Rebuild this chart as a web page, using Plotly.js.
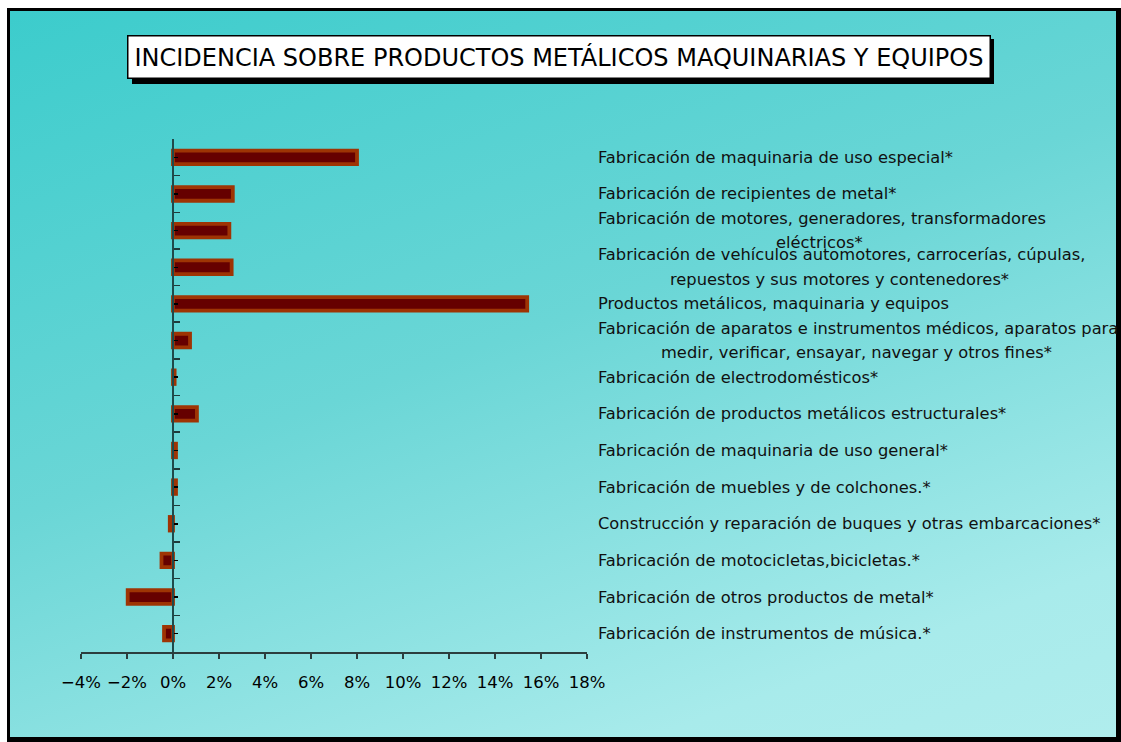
<!DOCTYPE html>
<html>
<head>
<meta charset="utf-8">
<script src="https://cdn.plot.ly/plotly-3.0.1.min.js"></script>
<style>
  html, body { margin: 0; padding: 0; background: #ffffff; width: 1121px; height: 742px; overflow: hidden; }
  #frame { position: absolute; left: 7px; top: 8px; width: 1114px; height: 734px; box-sizing: border-box;
           border-style: solid; border-color: #000; border-width: 3px 5px 5px 3px;
           background: linear-gradient(160deg, #3ccccc 0%, #6ad6d6 45%, #a8ebeb 85%, #b0eded 100%); }
  #chart { position: absolute; left: 0; top: 0; width: 1121px; height: 742px; }
</style>
</head>
<body>
<div id="frame"></div>
<div id="chart"></div>
<script>
// ---- data ----
const categories = [
  "Fabricación de maquinaria de uso especial*",
  "Fabricación de recipientes de metal*",
  "Fabricación de motores, generadores, transformadores<br>eléctricos*",
  "Fabricación de vehículos automotores, carrocerías, cúpulas,<br>repuestos y sus motores y contenedores*",
  "Productos metálicos, maquinaria y equipos",
  "Fabricación de aparatos e instrumentos médicos, aparatos para<br>medir, verificar, ensayar, navegar y otros fines*",
  "Fabricación de electrodomésticos*",
  "Fabricación de productos metálicos estructurales*",
  "Fabricación de maquinaria de uso general*",
  "Fabricación de muebles y de colchones.*",
  "Construcción y reparación de buques y otras embarcaciones*",
  "Fabricación de motocicletas,bicicletas.*",
  "Fabricación de otros productos de metal*",
  "Fabricación de instrumentos de música.*"
];
const incidencia = [8.0, 2.6, 2.45, 2.55, 15.4, 0.74, 0.07, 1.04, 0.13, 0.13, -0.14, -0.5, -1.97, -0.39];
const xTickVals = [-4, -2, 0, 2, 4, 6, 8, 10, 12, 14, 16, 18];
const xTickText = ["−4%", "−2%", "0%", "2%", "4%", "6%", "8%", "10%", "12%", "14%", "16%", "18%"];
const chartTitle = "INCIDENCIA SOBRE PRODUCTOS METÁLICOS MAQUINARIAS Y EQUIPOS";

// ---- layout constants ----
const W = 1121, H = 742;
const M = { l: 81, r: 534, t: 139, b: 90 };
const xRange = [-4, 18];
const labelFont = { family: "DejaVu Sans", size: 16.3, color: "#111111" };

const idx = categories.map((_, i) => i);

const trace = {
  type: "bar",
  orientation: "h",
  x: incidencia,
  y: idx,
  width: 0.37,
  marker: { color: "#660000", line: { color: "rgb(158,52,4)", width: 3.8 } },
  hoverinfo: "skip"
};

// text measurement for centering second lines
const cv = document.createElement("canvas").getContext("2d");
cv.font = labelFont.size + "px 'DejaVu Sans'";

const plotW = W - M.l - M.r, plotH = H - M.t - M.b;
const px2x = p => (p - M.l) / plotW;
const py2y = p => (H - M.b - p) / plotH;

// title shadow box (pixel frame of the title box, offset)
const shapes = [{
  type: "rect", xref: "paper", yref: "paper", layer: "above",
  x0: px2x(132), x1: px2x(994), y0: py2y(39), y1: py2y(84),
  fillcolor: "#000", line: { width: 0 }
}];

const annotations = [];
const titleFont = { family: "DejaVu Sans", size: 24, color: "#000" };
annotations.push({
  xref: "paper", yref: "paper", x: px2x(559), y: py2y(57.5),
  xanchor: "center", yanchor: "middle",
  text: chartTitle, showarrow: false, font: titleFont,
  bgcolor: "#ffffff", bordercolor: "#000", borderwidth: 1.5, borderpad: 6
});

categories.forEach((c, i) => {
  const lines = c.split("<br>");
  if (lines.length === 1) {
    annotations.push({ xref: "paper", yref: "y", x: 1, y: i, xshift: 9, xanchor: "left", yanchor: "middle",
      text: c, showarrow: false, font: labelFont });
  } else {
    const w1 = cv.measureText(lines[0]).width;
    annotations.push({ xref: "paper", yref: "y", x: 1, y: i, xshift: 9, yshift: 12.3, xanchor: "left", yanchor: "middle",
      text: lines[0], showarrow: false, font: labelFont });
    annotations.push({ xref: "paper", yref: "y", x: 1, y: i, xshift: 9 + w1 / 2, yshift: -12.3, xanchor: "center", yanchor: "middle",
      text: lines[1], showarrow: false, font: labelFont });
  }
});

const layout = {
  width: W, height: H,
  margin: M,
  paper_bgcolor: "rgba(0,0,0,0)",
  plot_bgcolor: "rgba(0,0,0,0)",
  showlegend: false,
  bargap: 0,
  xaxis: {
    range: xRange, tickmode: "array", tickvals: xTickVals, ticktext: xTickText,
    showgrid: false, zeroline: false,
    showline: true, linecolor: "#2c3e3e", linewidth: 1.5,
    ticks: "outside", ticklen: 5, tickwidth: 1.5, tickcolor: "#2c3e3e",
    tickfont: { family: "DejaVu Sans", size: 16.5, color: "#000" },
    ticklabelstandoff: 10,
    fixedrange: true
  },
  yaxis: {
    range: [categories.length - 0.5, -0.5],
    anchor: "free", position: (0 - xRange[0]) / (xRange[1] - xRange[0]),
    showgrid: false, zeroline: false, showticklabels: false,
    showline: true, linecolor: "#1f4a4a", linewidth: 2,
    tickmode: "linear", tick0: -0.5, dtick: 1,
    ticks: "inside", ticklen: 6, tickwidth: 1.5, tickcolor: "#1f3a3a",
    minor: { tickmode: "linear", tick0: 0, dtick: 1, ticks: "inside", ticklen: 4, tickwidth: 1.5, tickcolor: "#000" },
    fixedrange: true
  },
  shapes: shapes,
  annotations: annotations
};

Plotly.newPlot("chart", [trace], layout, { displayModeBar: false, staticPlot: true });
</script>
</body>
</html>
